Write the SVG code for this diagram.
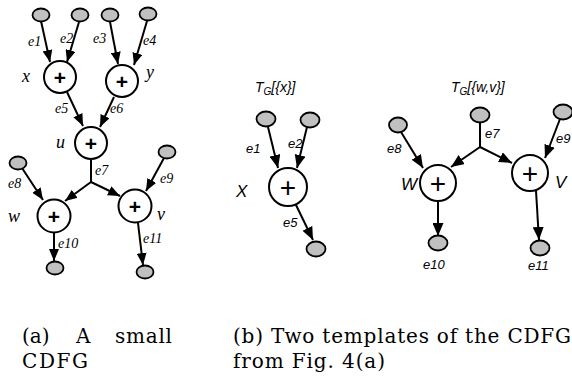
<svg xmlns="http://www.w3.org/2000/svg" width="572" height="378" viewBox="0 0 572 378">
<defs>
<marker id="ah" markerUnits="userSpaceOnUse" markerWidth="13" markerHeight="10" refX="12" refY="5" orient="auto">
<path d="M0,0 L12,5 L0,10 z" fill="#000"/>
</marker>
<marker id="ah2" markerUnits="userSpaceOnUse" markerWidth="14" markerHeight="11" refX="13" refY="5.5" orient="auto">
<path d="M0,0 L13,5.5 L0,11 z" fill="#000"/>
</marker>
<style>
.op{fill:#fff;stroke:#000;stroke-width:2}
.io{fill:#c0c0c0;stroke:#000;stroke-width:1.8}
.plus{font-family:"Liberation Sans",Arial,sans-serif;font-weight:bold;font-size:21px;text-anchor:middle;fill:#000}
.plus2{font-family:"Liberation Sans",Arial,sans-serif;font-size:28px;text-anchor:middle;fill:#000}
.e{stroke:#000;stroke-width:2;fill:none}
.ea{stroke:#000;stroke-width:2;fill:none;marker-end:url(#ah)}
.eb{stroke:#000;stroke-width:2;fill:none;marker-end:url(#ah2)}
.tl{font-family:"Liberation Serif","Times New Roman",serif;font-style:italic;font-size:14px;fill:#000}
.tn{font-family:"Liberation Serif","Times New Roman",serif;font-style:italic;font-size:18px;fill:#000}
.sl{font-family:"Liberation Sans",Arial,sans-serif;font-style:italic;font-size:13px;fill:#000}
.sn{font-family:"Liberation Sans",Arial,sans-serif;font-style:italic;font-size:17px;fill:#000}
.st{font-family:"Liberation Sans",Arial,sans-serif;font-style:italic;font-size:14px;fill:#000}
.cap{font-family:"DejaVu Serif","Liberation Serif",serif;font-size:20px;fill:#000}
</style>
</defs>

<!-- (a) small CDFG -->
<g id="edges-a">
<line class="ea" x1="41" y1="21" x2="50" y2="62"/>
<line class="ea" x1="79" y1="22" x2="67" y2="62"/>
<line class="ea" x1="110" y1="22" x2="118" y2="64"/>
<line class="ea" x1="147" y1="21" x2="134" y2="65"/>
<line class="ea" x1="67" y1="92" x2="83" y2="126"/>
<line class="ea" x1="114" y1="97" x2="100" y2="127"/>
<line class="e" x1="91" y1="160" x2="91" y2="182"/>
<line class="ea" x1="91" y1="182" x2="65" y2="201"/>
<line class="ea" x1="91" y1="182" x2="120" y2="196"/>
<line class="ea" x1="22" y1="168" x2="43" y2="200"/>
<line class="ea" x1="164" y1="158" x2="146" y2="191"/>
<line class="ea" x1="54" y1="233" x2="54" y2="261"/>
<line class="ea" x1="138" y1="223" x2="143" y2="265"/>
</g>
<g id="a-in1"><ellipse class="io" cx="41" cy="15" rx="8.5" ry="6.5"/><text class="tl" x="28" y="46">e1</text></g>
<g id="a-in2"><ellipse class="io" cx="80" cy="15" rx="8.5" ry="6.5"/><text class="tl" x="60" y="43">e2</text></g>
<g id="a-in3"><ellipse class="io" cx="110" cy="15" rx="8.5" ry="6.5"/><text class="tl" x="93" y="43">e3</text></g>
<g id="a-in4"><ellipse class="io" cx="148" cy="14" rx="8.5" ry="6.5"/><text class="tl" x="143" y="45">e4</text></g>
<g id="a-x"><circle class="op" cx="60" cy="77" r="16"/><text class="plus" x="60" y="84.5">+</text><text class="tn" x="22" y="82">x</text><text class="tl" x="55" y="113">e5</text></g>
<g id="a-y"><circle class="op" cx="122" cy="81" r="16"/><text class="plus" x="122" y="88.5">+</text><text class="tn" x="146" y="78">y</text><text class="tl" x="110" y="113">e6</text></g>
<g id="a-u"><circle class="op" cx="91" cy="143" r="16"/><text class="plus" x="91" y="150.5">+</text><text class="tn" x="56" y="148">u</text><text class="tl" x="95" y="175">e7</text></g>
<g id="a-in8"><ellipse class="io" cx="18" cy="163" rx="8.5" ry="6.5"/><text class="tl" x="8" y="188">e8</text></g>
<g id="a-in9"><ellipse class="io" cx="167" cy="152" rx="8.5" ry="6.5"/><text class="tl" x="160" y="183">e9</text></g>
<g id="a-w"><circle class="op" cx="54" cy="216" r="16.5"/><text class="plus" x="54" y="223.5">+</text><text class="tn" x="8" y="222">w</text></g>
<g id="a-v"><circle class="op" cx="135" cy="206" r="16.5"/><text class="plus" x="135" y="213.5">+</text><text class="tn" x="157" y="220">v</text></g>
<g id="a-out10"><ellipse class="io" cx="55" cy="268" rx="8.5" ry="6.5"/><text class="tl" x="58" y="248">e10</text></g>
<g id="a-out11"><ellipse class="io" cx="145" cy="272" rx="8.5" ry="6.5"/><text class="tl" x="143" y="243">e11</text></g>

<!-- (b) template T_G[{x}] -->
<g id="t1-title"><text class="st" x="255" y="92">T<tspan font-size="10" dy="3">G</tspan><tspan dy="-3">[{x}]</tspan></text></g>
<g id="edges-t1">
<line class="eb" x1="268" y1="127" x2="278" y2="168"/>
<line class="eb" x1="307" y1="127" x2="297" y2="168"/>
<line class="eb" x1="296" y1="205" x2="313" y2="240"/>
</g>
<g id="t1-in1"><ellipse class="io" cx="266" cy="119" rx="9.5" ry="7.5"/><text class="sl" x="246" y="153">e1</text></g>
<g id="t1-in2"><ellipse class="io" cx="310" cy="120" rx="9.5" ry="7.5"/><text class="sl" x="288" y="148">e2</text></g>
<g id="t1-x"><circle class="op" cx="288" cy="187" r="19"/><text class="plus2" x="288" y="196.5">+</text><text class="sn" x="236" y="197">X</text><text class="sl" x="283" y="227">e5</text></g>
<g id="t1-out"><ellipse class="io" cx="316" cy="249" rx="9.5" ry="7.5"/></g>

<!-- (b) template T_G[{w,v}] -->
<g id="t2-title"><text class="st" x="451" y="92">T<tspan font-size="10" dy="3">G</tspan><tspan dy="-3">[{w,v}]</tspan></text></g>
<g id="edges-t2">
<line class="e" x1="480" y1="122" x2="480" y2="147"/>
<line class="eb" x1="480" y1="147" x2="451" y2="167"/>
<line class="eb" x1="480" y1="147" x2="512" y2="163"/>
<line class="eb" x1="401" y1="132" x2="423" y2="168"/>
<line class="eb" x1="560" y1="119" x2="545" y2="158"/>
<line class="eb" x1="438" y1="201" x2="438" y2="236"/>
<line class="eb" x1="536" y1="191" x2="539" y2="240"/>
</g>
<g id="t2-in7"><ellipse class="io" cx="480" cy="115" rx="9.5" ry="7.5"/><text class="sl" x="485" y="138">e7</text></g>
<g id="t2-in8"><ellipse class="io" cx="398" cy="125" rx="9" ry="7.5"/><text class="sl" x="387" y="153">e8</text></g>
<g id="t2-in9"><ellipse class="io" cx="563" cy="112" rx="9.5" ry="7.5"/><text class="sl" x="556" y="143">e9</text></g>
<g id="t2-w"><circle class="op" cx="438" cy="183" r="18"/><text class="plus2" x="438" y="192.5">+</text><text class="sn" x="401" y="190">W</text></g>
<g id="t2-v"><circle class="op" cx="530" cy="173" r="18"/><text class="plus2" x="530" y="182.5">+</text><text class="sn" x="555" y="188">V</text></g>
<g id="t2-out10"><ellipse class="io" cx="438" cy="243" rx="9.5" ry="7.5"/><text class="sl" x="423" y="269">e10</text></g>
<g id="t2-out11"><ellipse class="io" cx="540" cy="248" rx="9.5" ry="7.5"/><text class="sl" x="528" y="270">e11</text></g>

<!-- captions -->
<g id="captions">
<text class="cap" x="22" y="343">(a)</text>
<text class="cap" x="76" y="343">A</text>
<text class="cap" x="115" y="343" textLength="57">small</text>
<text class="cap" x="22" y="368" textLength="66">CDFG</text>
<text class="cap" x="233" y="343" textLength="338">(b) Two templates of the CDFG</text>
<text class="cap" x="233" y="368" textLength="152">from Fig. 4(a)</text>
</g>
</svg>
